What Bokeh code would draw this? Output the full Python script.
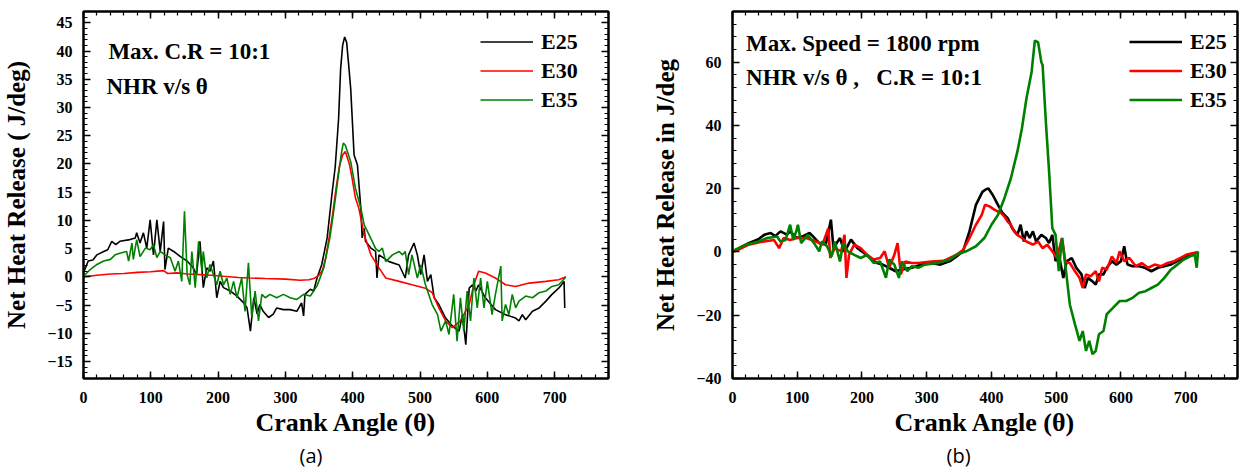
from bokeh.plotting import figure
from bokeh.layouts import row
from bokeh.models import (LinearAxis, SingleIntervalTicker, Range1d, Legend,
                          LegendItem, Label, Title, CustomLabelingPolicy)
from bokeh.embed import file_html
from bokeh.resources import INLINE

# ---------------- data: panel (a)  Max. C.R = 10:1 ----------------
theta_a_e25 = [0, 7, 14, 20, 30, 36, 42, 48, 54, 69, 77, 79, 84, 89, 94, 99, 104, 109, 114, 119,
               121, 126, 134, 144, 154, 163, 168, 173, 178, 183, 188, 193, 198, 203, 208, 218, 228,
               238, 243, 248, 253, 258, 262, 267, 275, 282, 287, 297, 307, 317, 324, 327, 329, 337,
               342, 347, 354, 362, 369, 374, 379, 382, 385, 388, 391, 394, 397, 402, 407, 412, 414,
               417, 419, 427, 434, 436, 439, 454, 469, 478, 483, 491, 496, 501, 506, 511, 516, 521,
               528, 538, 548, 558, 563, 568, 573, 578, 583, 587, 597, 612, 627, 642, 647, 652, 657,
               667, 677, 687, 696, 706, 714, 715]
nhr_a_e25 = [0.7, 2.8, 3.0, 3.9, 4.5, 4.8, 6.3, 5.7, 6.3, 6.6, 6.9, 7.8, 6.0, 7.8, 5.1, 10.1, 3.9,
             10.1, 4.5, 9.8, 1.3, 5.1, 4.5, 3.6, 2.8, 1.6, 0.4, 6.3, -1.9, 1.6, 1.0, 2.8, -3.7, -0.8,
             -1.9, -2.5, -3.4, -4.6, -5.5, -9.6, -3.7, -6.6, -4.9, -6.1, -7.2, -6.6, -5.5, -5.8,
             -5.8, -6.1, -4.6, -6.9, -3.1, -2.2, -2.5, -0.2, 2.2, 6.9, 14.5, 19.5, 28.0, 36.8, 41.0,
             42.5, 41.5, 37.5, 33.3, 21.6, 19.8, 12.2, 6.9, 8.6, 6.3, 5.1, 4.5, -0.2, 3.9, 2.7, 2.1,
             -0.2, 3.9, 6.0, 3.9, 0.4, 3.9, -0.8, 0.4, -3.7, -4.9, -7.3, -8.7, -9.6, -6.7, -12.0,
             -2.0, -1.4, -2.5, -1.4, -3.7, -5.8, -6.7, -7.3, -7.8, -6.7, -7.6, -6.1, -5.5, -4.3,
             -3.1, -2.0, -0.8, -5.5]

theta_a_e30 = [0, 20, 40, 60, 80, 100, 119, 125, 139, 155, 173, 190, 208, 230, 248, 270, 300, 322,
               335, 342, 350, 355, 360, 365, 370, 375, 380, 385, 389, 395, 399, 404, 409, 417, 427,
               439, 449, 469, 488, 508, 518, 528, 538, 548, 560, 573, 580, 587, 597, 612, 627, 642,
               662, 687, 706, 717]
nhr_a_e30 = [0.0, 0.3, 0.5, 0.6, 0.8, 0.9, 1.1, 0.6, 0.7, 0.5, 0.4, 0.3, 0.1, -0.1, -0.2, -0.3,
             -0.4, -0.6, -0.5, -0.3, 0.3, 1.2, 3.5, 7.0, 11.0, 15.5, 19.5, 21.6, 22.2, 20.0, 17.5,
             14.0, 12.2, 7.5, 3.9, 1.6, -0.2, -0.8, -1.4, -2.0, -2.8, -5.5, -7.8, -9.0, -7.8, -4.9,
             -1.4, 1.0, 0.7, -0.2, -1.4, -1.7, -1.1, -0.8, -0.5, 0.0]

theta_a_e35 = [0, 10, 20, 30, 40, 47, 54, 64, 67, 72, 74, 79, 84, 92, 99, 104, 109, 114, 121, 129,
               136, 141, 146, 150, 154, 158, 161, 166, 171, 176, 178, 183, 188, 193, 198, 203, 208,
               213, 218, 223, 228, 235, 240, 245, 250, 255, 260, 265, 270, 277, 287, 297, 307, 317,
               327, 337, 347, 357, 366, 371, 376, 381, 384, 386, 389, 397, 404, 412, 417, 422, 429,
               434, 439, 444, 449, 459, 469, 474, 478, 483, 488, 496, 501, 508, 518, 526, 531, 538,
               543, 550, 555, 560, 565, 570, 575, 580, 585, 590, 595, 600, 607, 612, 620, 622, 627,
               632, 637, 642, 647, 657, 667, 677, 687, 696, 706, 716]
nhr_a_e35 = [0.1, 1.3, 2.2, 2.8, 3.1, 3.9, 4.2, 4.5, 2.8, 6.0, 3.1, 6.6, 3.6, 5.1, 4.8, 5.7, 3.4,
             4.5, 3.9, 3.4, 1.0, 2.8, -0.8, 11.6, 0.4, -1.4, 4.5, -1.9, 6.3, 1.0, 4.5, -0.2, 2.2,
             0.4, -1.4, 1.0, -1.4, -0.2, -3.1, -0.8, -3.7, -0.2, -6.1, 2.5, -7.2, -2.5, -7.8, -3.1,
             -3.7, -3.1, -3.7, -3.1, -3.7, -4.0, -3.1, -3.4, -1.6, 1.6, 6.9, 11.0, 15.5, 20.0, 22.5,
             23.7, 23.3, 20.4, 15.7, 12.2, 9.2, 8.0, 6.3, 5.0, 4.5, 5.1, 2.7, 3.9, 4.5, 3.9, 4.5,
             0.4, 3.9, -0.2, 2.1, -1.4, -4.9, -6.7, -9.6, -7.8, -10.2, -3.1, -11.4, -3.7, -9.6,
             -2.5, -7.8, -0.2, -5.5, -0.2, -5.5, -0.8, -6.7, -3.1, 1.9, -7.8, -4.9, -6.7, -3.1,
             -5.5, -4.3, -3.4, -3.7, -2.8, -2.5, -1.7, -1.4, -0.1]

# ---------------- data: panel (b)  Max. Speed = 1800 rpm ----------------
theta_b_e25 = [0, 10, 25, 40, 49, 59, 66, 74, 84, 89, 99, 109, 119, 124, 134, 144, 152, 156, 166,
               173, 183, 193, 203, 213, 223, 232, 242, 252, 262, 277, 292, 307, 321, 336, 346, 356,
               366, 376, 386, 390, 395, 402, 410, 417, 425, 432, 440, 445, 450, 454, 459, 464, 469,
               477, 484, 489, 494, 499, 504, 511, 516, 524, 531, 539, 544, 549, 556, 561, 566, 573,
               578, 586, 593, 600, 605, 610, 618, 628, 637, 647, 657, 667, 677, 687, 697, 707, 717]
nhr_b_e25 = [0.2, 1.0, 2.8, 4.0, 5.4, 6.0, 5.0, 6.5, 5.5, 6.5, 4.4, 5.0, 6.0, 5.0, 2.8, 2.3, 10.2,
             1.2, 4.4, 0.0, 3.9, 1.2, -0.3, -2.0, -3.5, -4.0, -5.0, -6.1, -5.5, -5.0, -4.0, -3.5,
             -4.0, -2.9, -1.4, 0.2, 6.5, 14.9, 19.0, 19.6, 20.1, 18.0, 14.9, 12.3, 10.7, 7.5, 5.4,
             8.6, 3.3, 6.5, 4.4, 6.5, 3.3, 5.4, 4.4, 2.8, 5.4, -2.9, -0.8, -8.2, -3.0, -1.9, -5.0,
             -7.1, -11.4, -8.2, -9.3, -10.3, -7.1, -7.1, -5.0, -2.9, -4.0, -2.9, 1.8, -4.0, -4.5,
             -4.5, -5.0, -6.1, -5.0, -4.5, -4.0, -2.9, -1.9, -0.8, -0.3]

theta_b_e30 = [0, 10, 25, 40, 49, 64, 72, 79, 89, 99, 114, 129, 139, 148, 151, 158, 168, 173, 176,
               180, 188, 198, 208, 218, 228, 235, 242, 250, 255, 260, 267, 277, 287, 307, 326, 346,
               356, 366, 376, 385, 390, 397, 405, 415, 420, 425, 430, 435, 440, 447, 454, 464, 472,
               479, 486, 494, 501, 509, 514, 521, 529, 536, 541, 546, 553, 561, 566, 571, 578, 586,
               593, 598, 605, 613, 623, 632, 642, 652, 662, 672, 682, 692, 702, 712, 719]
nhr_b_e30 = [0.0, 0.8, 2.3, 3.0, 3.3, 3.8, 1.2, 4.4, 3.8, 4.4, 4.4, 3.3, 2.3, 7.5, -1.9, 1.2, 0.2,
             5.4, -8.2, -0.9, 2.3, 1.2, -0.9, -2.4, -1.9, 0.2, -5.0, -0.9, 2.8, -7.1, -3.0, -3.5,
             -3.5, -3.0, -2.8, -0.9, 0.6, 4.4, 8.6, 11.7, 14.9, 14.4, 13.3, 12.3, 11.2, 9.6, 8.6,
             6.5, 5.4, 4.4, 3.3, 2.3, 3.3, 1.2, 2.3, 0.2, -1.9, 4.4, -3.0, -3.5, -6.1, -8.2, -11.4,
             -7.1, -7.7, -6.1, -9.3, -5.0, -5.6, -1.4, -3.5, 0.2, -2.9, -1.9, -4.5, -3.5, -5.0,
             -4.0, -4.5, -3.5, -2.9, -1.9, -0.8, -0.3, 0.0]

theta_b_e35 = [0, 20, 40, 54, 69, 74, 82, 89, 94, 99, 101, 106, 116, 126, 134, 138, 146, 153, 158,
               166, 171, 178, 188, 198, 208, 218, 228, 237, 242, 250, 257, 262, 270, 277, 287, 297,
               317, 336, 346, 361, 376, 389, 400, 410, 420, 430, 440, 447, 454, 462, 467, 472, 477,
               479, 484, 489, 494, 499, 504, 509, 514, 521, 529, 536, 541, 546, 551, 556, 561, 566,
               573, 578, 588, 598, 608, 618, 628, 638, 647, 657, 667, 677, 687, 697, 707, 714, 717,
               719]
nhr_b_e35 = [0.2, 2.3, 3.3, 4.4, 4.9, 3.3, 3.8, 8.6, 3.8, 6.9, 8.6, 2.8, 5.4, 2.8, 0.2, 3.3, 1.8,
             -1.4, 3.3, -3.0, 2.8, 0.2, -0.9, -1.9, -0.9, -3.5, -3.0, -8.2, -2.4, -4.0, -8.2, -3.0,
             -6.1, -4.5, -5.0, -4.0, -3.5, -2.4, -0.9, 0.2, 1.8, 4.4, 8.6, 11.7, 17.0, 23.3, 31.7,
             39.0, 48.5, 56.9, 66.8, 66.3, 60.0, 59.0, 41.1, 25.4, 7.5, 5.4, -6.1, 4.4, -4.0,
             -16.6, -22.9, -28.1, -25.0, -31.3, -28.1, -32.3, -31.3, -26.0, -25.0, -19.7, -17.6,
             -15.5, -15.5, -14.5, -12.9, -12.4, -11.4, -10.3, -8.2, -5.6, -4.0, -2.4, -1.4, -0.9,
             -5.0, 0.2]

series_names = ["E25", "E30", "E35"]
series_colors = ["#000000", "#ff0000", "#008000"]

SERIF = "Liberation Serif"
NBSP = "\u00a0"

NO_LABELS = CustomLabelingPolicy(code="""
const n = indices.size
for (let i = 0; i < n; i++) indices.unset(i)
return indices
""")


def style_axis(ax, interval, labels=True, label_text=None, tick_standoff=11, title_standoff=4,
               title_size="24px"):
    ax.ticker = SingleIntervalTicker(interval=interval, num_minor_ticks=5)
    ax.axis_line_width = 2
    ax.axis_line_color = "black"
    ax.major_tick_in = 7
    ax.major_tick_out = 0
    ax.minor_tick_in = 4
    ax.minor_tick_out = 0
    ax.major_tick_line_width = 1.5
    ax.minor_tick_line_width = 1.2
    ax.major_tick_line_color = "black"
    ax.minor_tick_line_color = "black"
    if labels:
        ax.major_label_text_font = SERIF
        ax.major_label_text_font_style = "bold"
        ax.major_label_text_font_size = "16px"
        ax.major_label_text_color = "black"
        ax.major_label_standoff = tick_standoff
    else:
        ax.major_label_policy = NO_LABELS
        ax.major_label_standoff = 0
    if label_text:
        ax.axis_label = label_text
        ax.axis_label_text_font = SERIF
        ax.axis_label_text_font_style = "bold"
        ax.axis_label_text_font_size = title_size
        ax.axis_label_text_color = "black"
        ax.axis_label_standoff = title_standoff


def make_panel(width, border_left, border_right, yr, yint, ylabel, series, notes, tag, tag_off,
               lw):
    p = figure(width=width, height=472, x_range=Range1d(0, 780), y_range=Range1d(*yr),
               output_backend="svg", toolbar_location=None,
               min_border_left=border_left, min_border_right=border_right,
               min_border_top=9, min_border_bottom=94)
    p.xgrid.visible = False
    p.ygrid.visible = False
    p.outline_line_color = "black"
    p.outline_line_width = 2
    p.background_fill_color = "white"

    style_axis(p.xaxis[0], 100, True, "Crank Angle (\u03b8)", tick_standoff=13, title_standoff=2,
               title_size="26px")
    style_axis(p.yaxis[0], yint, True, ylabel, tick_standoff=11, title_standoff=14,
               title_size="25px")
    top = LinearAxis()
    style_axis(top, 100, False)
    right = LinearAxis()
    style_axis(right, yint, False)
    p.add_layout(top, "above")
    p.add_layout(right, "right")

    items = []
    for (name, color, (th, val)) in zip(series_names, series_colors, series):
        r = p.line(th, val, line_color=color, line_width=lw)
        items.append(LegendItem(label=name, renderers=[r]))

    legend = Legend(items=items, location=(397, 264), glyph_width=53, glyph_height=29,
                    label_height=29, spacing=0, padding=0, margin=0, label_standoff=8,
                    border_line_color=None, background_fill_alpha=0,
                    label_text_font=SERIF, label_text_font_style="bold",
                    label_text_font_size="22px", label_text_color="black")
    p.add_layout(legend)

    for (tx, ty, txt) in notes:
        p.add_layout(Label(x=tx, y=ty, text=txt, text_font=SERIF, text_font_style="bold",
                           text_font_size="23px", text_color="black",
                           text_baseline="alphabetic"))

    p.add_layout(Title(text=tag, align="left", offset=tag_off, standoff=0,
                       text_font="Open Sans", text_font_style="normal",
                       text_font_size="20px", text_color="black"), "below")
    return p


pa = make_panel(640, 83, 32, (-18, 47), 5, "Net Heat Release ( J/deg)",
                [(theta_a_e25, nhr_a_e25), (theta_a_e30, nhr_a_e30), (theta_a_e35, nhr_a_e35)],
                [(37, 40, "Max. C.R = 10:1"), (34, 33.8, "NHR v/s \u03b8")],
                "(a)", 216, 1.6)

pb = make_panel(619, 92, 2, (-40, 76), 20, "Net Heat Release in J/deg",
                [(theta_b_e25, nhr_b_e25), (theta_b_e30, nhr_b_e30), (theta_b_e35, nhr_b_e35)],
                [(21, 65.8, "Max. Speed = 1800 rpm"),
                 (21, 55, "NHR v/s \u03b8 ," + NBSP * 3 + "C.R = 10:1")],
                "(b)", 214, 2.6)

layout = row(pa, pb)
open("out.html", "w").write(file_html(layout, INLINE))
